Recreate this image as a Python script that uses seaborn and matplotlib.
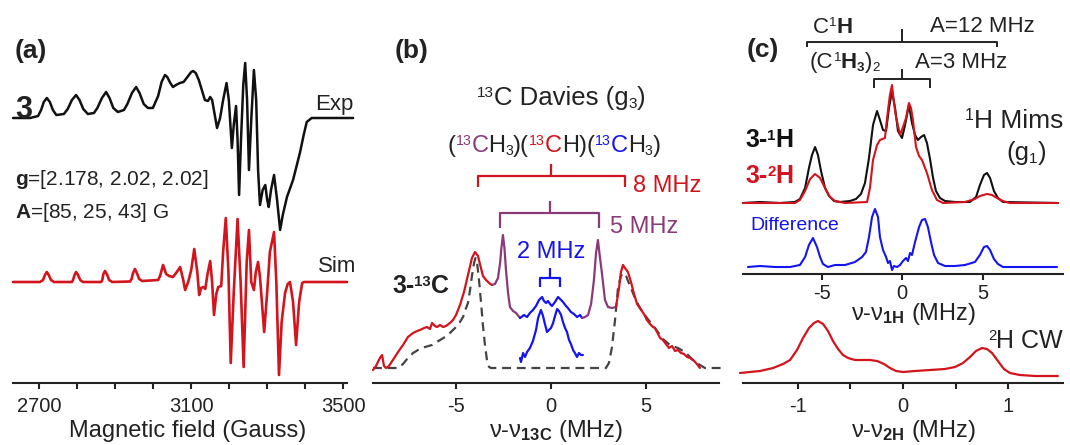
import numpy as np
import pandas as pd
import matplotlib
matplotlib.use("Agg")
import matplotlib.pyplot as plt
import seaborn as sns
from matplotlib.lines import Line2D

# ---------------- data ----------------
# (a) EPR, field in Gauss, intensity in arbitrary units
exp_field = [2631, 2676, 2697, 2705, 2712, 2720, 2728, 2736, 2745, 2765, 2775, 2786, 2797, 2806,
             2816, 2828, 2844, 2853, 2865, 2876, 2885, 2895, 2907, 2923, 2932, 2944, 2955, 2964,
             2975, 2986, 2999, 3013, 3022, 3031, 3037, 3045, 3052, 3060, 3070, 3080, 3092, 3100,
             3105, 3112, 3120, 3128, 3136, 3144, 3150, 3155, 3162, 3168, 3176, 3184, 3193, 3199,
             3207, 3212, 3218, 3222, 3226, 3231, 3237, 3242, 3247, 3252, 3258, 3265, 3271, 3276,
             3281, 3288, 3295, 3300, 3304, 3310, 3318, 3326, 3334, 3341, 3352, 3368, 3378, 3386,
             3396, 3404, 3417, 3526]
exp_int = [0, 0, 2, 8, 16, 20, 16, 8, 3, 4, 9, 18, 23, 18,
           9, 4, 5, 10, 20, 26, 20, 10, 6, 8, 14, 25, 31, 25,
           14, 10, 10, 22, 36, 43, 41, 35, 31, 33, 35, 36, 42, 46,
           47, 45, 38, 28, 18, 17, 21, 18, 3, -10, 0, 18, 35, 18,
           -30, -7, 12, -22, -77, -22, 33, 55, 18, -52, -2, 48, 18, -52,
           -87, -72, -67, -82, -89, -72, -57, -82, -112, -97, -79, -62, -47, -35,
           -17, -4, 0, 0]
sim_field = [2631, 2702, 2710, 2715, 2720, 2725, 2731, 2739, 2786, 2789, 2793, 2797, 2802, 2808,
             2815, 2863, 2866, 2869, 2873, 2878, 2884, 2892, 2939, 2943, 2947, 2952, 2957, 2963,
             2971, 3013, 3018, 3026, 3034, 3042, 3052, 3062, 3071, 3079, 3084, 3092, 3100, 3108,
             3116, 3121, 3126, 3132, 3137, 3143, 3150, 3155, 3160, 3166, 3171, 3179, 3184, 3191,
             3198, 3204, 3212, 3222, 3230, 3238, 3246, 3252, 3258, 3265, 3270, 3276, 3281, 3292,
             3300, 3307, 3318, 3324, 3331, 3338, 3347, 3354, 3360, 3368, 3376, 3384, 3392, 3397,
             3510]
sim_int = [0, 0, 2, 7, 10, 7, 2, 0, 0, 2, 7, 10, 7, 2,
           0, 0, 2, 8, 11, 8, 2, 0, 0.5, 3, 9, 13, 9, 3,
           1, 2, 6, 17, 8, 6, 5, 10, 15, 2, -8, 0, 12, 33,
           10, -13, -6, -5, -7, 8, 21, 0, -33, -12, -5, -4, 30, 64,
           10, -81, -10, 63, 0, -85, 20, 52, 0, -8, 10, 20, 5, -50,
           -10, 30, 50, 0, -93, -40, -11, -2, 0, -20, -63, -20, -1, 0,
           0]

# (b) 13C Davies ENDOR, nu - nu13C in MHz
red_l_mhz = [-9.37, -9.21, -9.11, -9.0, -8.89, -8.79, -8.68, -8.53, -8.32, -8.05, -7.79, -7.53,
             -7.26, -7.05, -6.89, -6.68, -6.53, -6.37, -6.26, -6.11, -6.0, -5.84, -5.68, -5.53,
             -5.32, -5.16, -5.0, -4.79, -4.58, -4.37, -4.16, -4.0, -3.84, -3.74, -3.58, -3.42,
             -3.26, -3.11]
red_l_int = [-2, 2, 6, 10, 13, 2, 0, 2, 8, 16, 23, 31,
             35, 37, 38, 40, 41, 39, 45, 42, 41, 43, 41, 42,
             45, 48, 53, 63, 76, 93, 110, 116, 112, 104, 92, 88,
             85, 83]
pur_l_mhz = [-3.11, -2.95, -2.79, -2.68, -2.61, -2.53, -2.45, -2.37, -2.26, -2.16, -2.0, -1.84, -1.63]
pur_l_int = [83, 84, 90, 105, 120, 133, 120, 98, 75, 61, 57, 55, 50]
blu_u_mhz = [-1.63, -1.42, -1.26, -1.11, -0.95, -0.79, -0.63, -0.47, -0.37, -0.26, -0.16, -0.05,
             0.05, 0.21, 0.37, 0.53, 0.63, 0.79, 0.89, 1.05, 1.21, 1.37, 1.53, 1.63]
blu_u_int = [50, 53, 51, 55, 58, 62, 68, 71, 67, 65, 67, 64,
             62, 66, 71, 68, 66, 62, 60, 56, 54, 51, 53, 50]
pur_r_mhz = [1.63, 1.79, 1.95, 2.11, 2.26, 2.37, 2.47, 2.58, 2.68, 2.84, 3.0, 3.21, 3.42]
pur_r_int = [50, 51, 53, 64, 88, 115, 128, 110, 95, 68, 61, 60, 61]
red_r_mhz = [3.42, 3.58, 3.68, 3.79, 3.89, 4.05, 4.21, 4.37, 4.53, 4.68, 4.89, 5.05, 5.21, 5.37,
             5.47, 5.58, 5.74, 5.89, 6.05, 6.21, 6.37, 6.53, 6.68, 6.84, 7.0, 7.16, 7.32, 7.53,
             7.68, 7.84]
red_r_int = [61, 80, 96, 103, 100, 96, 86, 74, 64, 60, 54, 48, 44, 41,
             40, 36, 30, 28, 24, 20, 22, 17, 18, 15, 14, 11, 10, 7,
             4, 0]
blu_lo_mhz = [-1.63, -1.58, -1.47, -1.37, -1.26, -1.11, -0.95, -0.79, -0.68, -0.53, -0.42, -0.32,
              -0.21, -0.11, 0.0, 0.11, 0.21, 0.32, 0.42, 0.53, 0.63, 0.74, 0.84, 0.95, 1.05,
              1.16, 1.26, 1.37, 1.47, 1.58, 1.68]
blu_lo_int = [10, 6, 15, 11, 16, 20, 27, 38, 50, 58, 52, 44,
              36, 38, 40, 45, 52, 59, 57, 53, 46, 40, 36, 28, 24,
              18, 15, 11, 15, 13, 13]
sim13_mhz = [-9.37, -8.05, -7.79, -7.53, -7.26, -7.0, -6.63, -6.26, -5.84, -5.58, -5.32, -5.05,
             -4.79, -4.63, -4.47, -4.37, -4.26, -4.16, -4.05, -3.97, -3.89, -3.79, -3.68, -3.58,
             -3.47, -3.37, -3.26, -3.16, 2.89, 3.05, 3.21, 3.37, 3.53, 3.68, 3.82, 3.95, 4.16,
             4.42, 4.68, 5.05, 5.47, 5.89, 6.26, 6.68, 7.05, 7.42, 7.84, 8.1, 9.0]
sim13_int = [0, 0, 4, 10, 15, 18, 21, 23, 28, 31, 35, 40,
             46, 51, 60, 65, 78, 92, 105, 110, 105, 88, 65, 42,
             22, 8, 1, 0, 0, 5, 21, 48, 81, 92, 95, 92, 82,
             70, 60, 50, 40, 29, 23, 20, 16, 9, 3, 0, 0]

# (c) 1H Mims ENDOR, nu - nu1H in MHz
h1_mhz = [-9.88, -8.82, -7.58, -6.65, -6.34, -6.02, -5.78, -5.59, -5.40, -5.22, -5.03, -4.78,
          -4.53, -4.22, -3.85, -3.23, -2.86, -2.55, -2.30, -2.05, -1.80, -1.55, -1.37, -1.18,
          -0.99, -0.81, -0.62, -0.43, -0.25, 0.0, 0.19, 0.43, 0.62, 0.81, 0.99, 1.18, 1.37,
          1.55, 1.74, 1.93, 2.11, 2.36, 2.67, 3.29, 4.22, 4.60, 4.84, 5.09, 5.28, 5.47, 5.71,
          5.96, 6.27, 9.69]
h1_int = [0, 1, 0, 1, 4, 15, 35, 48, 56, 48, 32, 15,
          7, 2, 1, 2, 4, 9, 20, 45, 78, 92, 83, 73,
          72, 95, 112, 95, 72, 65, 78, 98, 80, 68, 63, 66, 68,
          60, 44, 25, 12, 5, 2, 1, 1, 6, 18, 28, 30, 25, 12,
          5, 1, 0]
h2_mhz = [-9.88, -6.65, -6.34, -6.02, -5.71, -5.40, -5.09, -4.78, -4.47, -4.16, -3.54, -2.17,
          -1.99, -1.80, -1.55, -1.37, -1.06, -0.87, -0.75, -0.62, -0.50, -0.37, -0.12, 0.06,
          0.25, 0.43, 0.56, 0.68, 0.87, 1.06, 1.24, 1.55, 1.86, 2.17, 2.55, 3.91, 4.53, 4.84,
          5.28, 5.59, 5.90, 6.27, 6.71, 9.69]
h2_int = [0, 0, 3, 12, 24, 29, 25, 15, 6, 2, 0, 1,
          15, 43, 58, 63, 65, 93, 108, 118, 100, 86, 68, 76,
          85, 100, 95, 83, 56, 47, 43, 30, 13, 3, 0, 1, 4, 7,
          9, 8, 5, 2, 0, 0]
diff_mhz = [-9.57, -8.82, -7.89, -6.96, -6.34, -6.02, -5.78, -5.53, -5.28, -5.09, -4.91, -4.60,
            -4.16, -3.54, -2.92, -2.48, -2.24, -2.05, -1.86, -1.68, -1.49, -1.37, -1.18, -0.99,
            -0.87, -0.75, -0.62, -0.50, -0.31, -0.12, 0.06, 0.25, 0.37, 0.50, 0.62, 0.81, 1.06,
            1.24, 1.43, 1.61, 1.80, 1.99, 2.24, 2.67, 3.29, 3.91, 4.53, 4.84, 5.09, 5.28, 5.47,
            5.71, 5.96, 6.27, 9.63]
diff_int = [0, 1, 0, 0, 2, 10, 22, 29, 20, 10, 3, 0,
            2, 2, 5, 10, 15, 30, 50, 58, 50, 30, 17, 10,
            4, 6, -3, 1, 0, 2, 6, 9, 6, 14, 12, 25, 40,
            47, 48, 40, 25, 12, 4, 1, 1, 2, 5, 12, 20, 21, 17,
            8, 3, 0, 0]
# (c) 2H CW ENDOR, nu - nu2H in MHz
cw_mhz = [-1.545, -1.355, -1.232, -1.137, -1.071, -1.005, -0.948, -0.891, -0.844, -0.806,
          -0.758, -0.711, -0.664, -0.616, -0.569, -0.521, -0.455, -0.389, -0.313, -0.246,
          -0.180, -0.123, -0.066, 0.0, 0.114, 0.256, 0.398, 0.493, 0.569, 0.635, 0.692,
          0.749, 0.796, 0.844, 0.900, 0.957, 1.014, 1.109, 1.251, 1.469]
cw_int = [10, 12, 15, 19, 23, 33, 45, 55, 60, 62,
          59, 52, 42, 34, 28, 25, 23, 23, 23, 22,
          19, 15, 12, 11, 12, 13, 14, 16, 20, 26, 32,
          35, 34, 30, 22, 14, 10, 8, 7, 7]

a_ticks = list(range(2700, 3501, 100))
a_labels = ["2700", "", "", "", "3100", "", "", "", "3500"]
b_ticks = [-5, 0, 5]
c_ticks = [-5, 0, 5]
d_ticks = [-1, -0.5, 0, 0.5, 1]
d_labels = ["-1", "", "0", "", "1"]

# ---------------- style ----------------
sns.set_theme(style="white")
plt.rcParams.update({
    "font.family": ["Liberation Sans", "DejaVu Sans"],
    "mathtext.fontset": "custom",
    "mathtext.rm": "Liberation Sans",
    "mathtext.it": "Liberation Sans:italic",
    "mathtext.bf": "Liberation Sans:bold",
    "mathtext.default": "regular",
    "axes.unicode_minus": False,
})

RED = "#d3141c"
PUR = "#8a3a78"
BLU = "#1414f0"
BLK = "#111111"
TXT = "#222222"
AX = "#222222"

W, H = 1070, 445
fig = plt.figure(figsize=(W / 100, H / 100), dpi=100)
renderer = fig.canvas.get_renderer()


def add_ax(l, r, t, b, pad=6):
    ax = fig.add_axes([l / W, 1 - b / H, (r - l) / W, (b - t) / H])
    ax.patch.set_alpha(0)
    for s in ["left", "right", "top"]:
        ax.spines[s].set_visible(False)
    ax.spines["bottom"].set_linewidth(1.5)
    ax.spines["bottom"].set_color(AX)
    ax.tick_params(axis="x", direction="out", length=4, width=1.5, colors=AX,
                   labelcolor=TXT, labelsize=14.5, pad=pad, bottom=True)
    ax.tick_params(axis="y", left=False, labelleft=False)
    ax.grid(False)
    return ax


def line(ax, x, y, offset, color, lw=1.6, **kw):
    sns.lineplot(x=np.asarray(x, float), y=np.asarray(y, float) + offset, ax=ax,
                 color=color, lw=lw, estimator=None, sort=False, clip_on=False, **kw)


def txt(x, y, s, **kw):
    kw.setdefault("va", "baseline")
    kw.setdefault("color", TXT)
    fig.text(x / W, 1 - y / H, s, **kw)


def rich(x, y, parts, size=17, color=TXT, weight="normal", ha="left"):
    """Pieces of normal / superscript / subscript text laid out along a baseline y (px)."""
    px = size * 100 / 72
    made = []
    for p in parts:
        s, kind = p[0], p[1]
        c = p[2] if len(p) > 2 and p[2] else color
        wgt = p[3] if len(p) > 3 else weight
        if kind == "n":
            fs, dy = size, 0
        elif kind == "sup":
            fs, dy = size * 0.6, -0.30 * px
        else:
            fs, dy = size * 0.6, 0.12 * px
        t = fig.text(0, 0, s, fontsize=fs, color=c, fontweight=wgt, va="baseline", ha="left")
        w = t.get_window_extent(renderer).width
        made.append((t, w, dy))
    total = sum(w for _, w, _ in made)
    x0 = x - {"left": 0, "center": 0.5, "right": 1}[ha] * total
    for t, w, dy in made:
        t.set_position((x0 / W, 1 - (y + dy) / H))
        x0 += w


def pline(xs, ys, color, lw=1.6):
    fig.add_artist(Line2D([x / W for x in xs], [1 - y / H for y in ys], color=color,
                          lw=lw, transform=fig.transFigure, solid_capstyle="butt"))


# ---------------- panel (a) ----------------
ax_a = add_ax(13, 347, 0, 383)
line(ax_a, exp_field, exp_int, 265, BLK, lw=1.8)
line(ax_a, sim_field, sim_int, 101, RED, lw=1.9)
ax_a.set_xlim(2631, 3510)
ax_a.set_ylim(0, 383)
ax_a.set_xticks(a_ticks)
ax_a.set_xticklabels(a_labels)
ax_a.set_xlabel("")
ax_a.set_ylabel("")

# ---------------- panel (b) ----------------
ax_b = add_ax(373, 719, 0, 383)
line(ax_b, sim13_mhz, sim13_int, 15, "#444444", lw=1.6, dashes=(4, 2.6))
line(ax_b, red_l_mhz, red_l_int, 15, RED, lw=1.6)
line(ax_b, pur_l_mhz, pur_l_int, 15, PUR, lw=1.6)
line(ax_b, blu_u_mhz, blu_u_int, 15, BLU, lw=1.6)
line(ax_b, pur_r_mhz, pur_r_int, 15, PUR, lw=1.6)
line(ax_b, red_r_mhz, red_r_int, 15, RED, lw=1.6)
line(ax_b, blu_lo_mhz, blu_lo_int, 15, BLU, lw=1.6)
ax_b.set_xlim((373 - 551) / 19, (719 - 551) / 19)
ax_b.set_ylim(0, 383)
ax_b.set_xticks(b_ticks)
ax_b.set_xticklabels([str(t) for t in b_ticks])
ax_b.set_xlabel("")
ax_b.set_ylabel("")

# ---------------- panel (c) ----------------
ax_c = add_ax(743, 1063, 0, 274, pad=3)
line(ax_c, h1_mhz, h1_int, 71, BLK, lw=1.5)
line(ax_c, h2_mhz, h2_int, 71, RED, lw=1.5)
line(ax_c, diff_mhz, diff_int, 7, BLU, lw=1.5)
ax_c.set_xlim((743 - 902) / 16.1, (1063 - 902) / 16.1)
ax_c.set_ylim(0, 274)
ax_c.set_xticks(c_ticks)
ax_c.set_xticklabels([str(t) for t in c_ticks])
ax_c.set_xlabel("")
ax_c.set_ylabel("")

ax_d = add_ax(743, 1063, 300, 383)
line(ax_d, cw_mhz, cw_int, 0, RED, lw=1.6)
ax_d.set_xlim(-1.517, 1.517)
ax_d.set_ylim(0, 83)
ax_d.set_xticks(d_ticks)
ax_d.set_xticklabels(d_labels)
ax_d.set_xlabel("")
ax_d.set_ylabel("")

# ---------------- texts: panel (a) ----------------
txt(15, 58, "(a)", fontsize=19, fontweight="bold")
txt(15, 118, "3", fontsize=22, fontweight="bold")
txt(315, 110, "Exp", fontsize=16)
txt(15, 185, r"$\mathbf{g}$=[2.178, 2.02, 2.02]", fontsize=15)
txt(15, 218, r"$\mathbf{A}$=[85, 25, 43] G", fontsize=15)
txt(318, 272, "Sim", fontsize=16)
txt(188, 437, "Magnetic field (Gauss)", fontsize=17, ha="center")

# ---------------- texts: panel (b) ----------------
txt(395, 58, "(b)", fontsize=19, fontweight="bold")
rich(561, 105, [("13", "sup"), ("C Davies (g", "n"), ("3", "sub"), (")", "n")], size=18.5,
     ha="center")
rich(554, 152, [("(", "n"), ("13", "sup", PUR), ("C", "n", PUR), ("H", "n"), ("3", "sub"),
                (")(", "n"), ("13", "sup", RED), ("C", "n", RED), ("H)(", "n"),
                ("13", "sup", BLU), ("C", "n", BLU), ("H", "n"), ("3", "sub"), (")", "n")],
     size=17, ha="center")
pline([478, 478, 625, 625], [187, 176, 176, 187], RED)
pline([551, 551], [176, 164], RED)
txt(633, 192, "8 MHz", fontsize=17, color=RED)
pline([500, 500, 599, 599], [228, 213, 213, 228], PUR)
pline([550, 550], [213, 201], PUR)
txt(610, 233, "5 MHz", fontsize=17, color=PUR)
txt(551, 258, "2 MHz", fontsize=17, color=BLU, ha="center")
pline([540, 540, 560, 560], [287, 278, 278, 287], BLU)
pline([550, 550], [278, 268], BLU)
rich(392, 293, [("3-", "n"), ("13", "sup"), ("C", "n")], size=18, weight="bold")
txt(556, 437, r"ν-ν$_{\mathbf{13C}}$ (MHz)", fontsize=17, ha="center")

# ---------------- texts: panel (c) ----------------
txt(747, 57, "(c)", fontsize=19, fontweight="bold")
rich(813, 33, [("C", "n"), ("1", "sup"), ("H", "n", None, "bold")], size=16)
txt(930, 32, "A=12 MHz", fontsize=16)
pline([807, 807, 997, 997], [47, 42, 42, 47], TXT, lw=1.4)
pline([902, 902], [42, 29], TXT, lw=1.4)
rich(810, 68, [("(C", "n"), ("1", "sup"), ("H", "n", None, "bold"), ("3", "sub", None, "bold"),
               (")", "n"), ("2", "sub")], size=16)
txt(915, 68, "A=3 MHz", fontsize=16)
pline([874, 874, 930, 930], [88, 79, 79, 88], TXT, lw=1.4)
pline([902, 902], [79, 69], TXT, lw=1.4)
rich(1063, 128, [("1", "sup"), ("H Mims", "n")], size=19, ha="right")
rich(1006, 160, [("(g", "n"), ("1", "sub"), (")", "n")], size=18.5)
rich(745, 147, [("3-", "n"), ("1", "sup"), ("H", "n")], size=18, weight="bold", color=BLK)
rich(745, 183, [("3-", "n"), ("2", "sup"), ("H", "n")], size=18, weight="bold", color=RED)
txt(750, 230, "Difference", fontsize=14, color=BLU)
txt(913, 320, r"ν-ν$_{\mathbf{1H}}$ (MHz)", fontsize=17, ha="center")
rich(1063, 348, [("2", "sup"), ("H CW", "n")], size=18, ha="right")
txt(913, 437, r"ν-ν$_{\mathbf{2H}}$ (MHz)", fontsize=17, ha="center")

fig.savefig("out.png", dpi=100)
